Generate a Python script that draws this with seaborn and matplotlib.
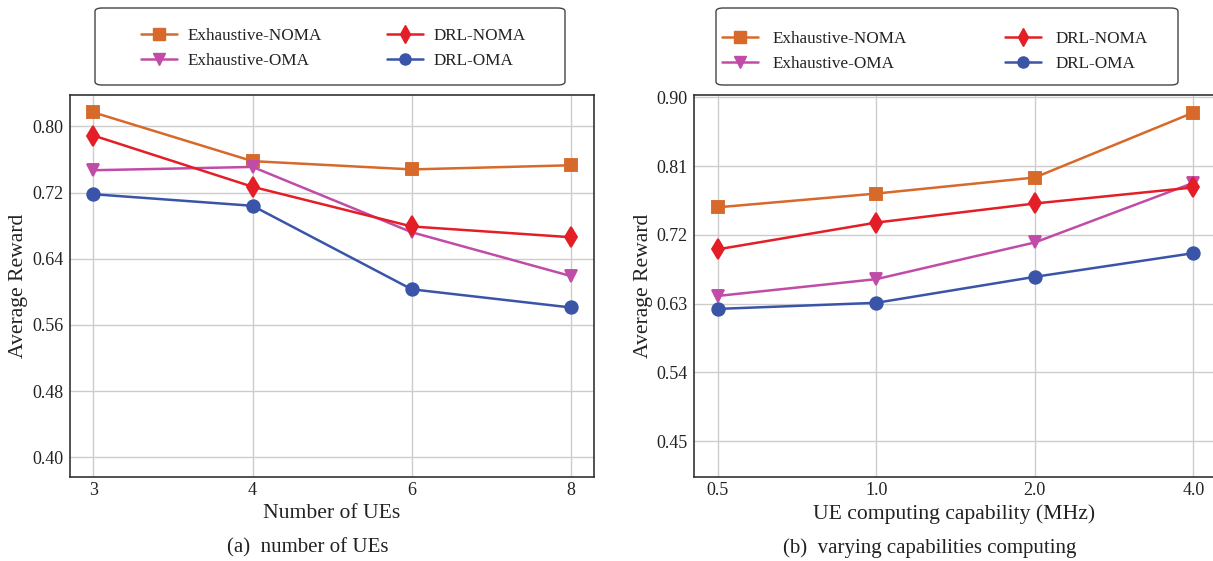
import matplotlib
matplotlib.use("Agg")
import matplotlib.pyplot as plt
import seaborn as sns
from matplotlib.lines import Line2D
from matplotlib.patches import FancyBboxPatch

# ---- data ----
ues_labels = ["3", "4", "6", "8"]
cap_labels = ["0.5", "1.0", "2.0", "4.0"]
series_names = ["Exhaustive-NOMA", "Exhaustive-OMA", "DRL-NOMA", "DRL-OMA"]

ues_exh_noma = [0.817, 0.758, 0.748, 0.753]
ues_exh_oma = [0.747, 0.751, 0.672, 0.619]
ues_drl_noma = [0.789, 0.727, 0.679, 0.666]
ues_drl_oma = [0.718, 0.704, 0.603, 0.581]

cap_exh_noma = [0.756, 0.774, 0.795, 0.880]
cap_exh_oma = [0.640, 0.662, 0.710, 0.788]
cap_drl_noma = [0.701, 0.736, 0.761, 0.782]
cap_drl_oma = [0.623, 0.631, 0.665, 0.696]

left_yticks = [0.40, 0.48, 0.56, 0.64, 0.72, 0.80]
right_yticks = [0.45, 0.54, 0.63, 0.72, 0.81, 0.90]

colors = {"Exhaustive-NOMA": "#d7692a", "Exhaustive-OMA": "#c04ca8",
          "DRL-NOMA": "#e41e26", "DRL-OMA": "#3a55a8"}
markers = {"Exhaustive-NOMA": "s", "Exhaustive-OMA": "v",
           "DRL-NOMA": "d", "DRL-OMA": "o"}
msizes = {"Exhaustive-NOMA": 9, "Exhaustive-OMA": 9, "DRL-NOMA": 10, "DRL-OMA": 9}

sns.set_theme(style="whitegrid")
plt.rcParams["font.family"] = ["Liberation Serif", "DejaVu Serif"]

fig = plt.figure(figsize=(12.13, 5.61), dpi=100)
W, H = 1213, 561
ax1 = fig.add_axes([70 / W, 1 - 477 / H, (594 - 70) / W, (477 - 95) / H])
ax2 = fig.add_axes([694 / W, 1 - 477 / H, (1214 - 694) / W, (477 - 95) / H])

left_data = dict(zip(series_names, [ues_exh_noma, ues_exh_oma, ues_drl_noma, ues_drl_oma]))
right_data = dict(zip(series_names, [cap_exh_noma, cap_exh_oma, cap_drl_noma, cap_drl_oma]))

def draw(ax, xlabels, data):
    for name in series_names:
        sns.pointplot(x=xlabels, y=data[name], ax=ax, color=colors[name],
                      marker=markers[name], markersize=msizes[name],
                      linewidth=1.8, errorbar=None, label=name, order=xlabels)

draw(ax1, ues_labels, left_data)
draw(ax2, cap_labels, right_data)

for ax, yt, ylim, xlim in [(ax1, left_yticks, (0.376, 0.838), (-0.147, 3.145)),
                           (ax2, right_yticks, (0.403, 0.903), (-0.15, 3.13))]:
    ax.set_yticks(yt)
    ax.set_yticklabels([f"{v:.2f}" for v in yt])
    ax.set_ylim(*ylim)
    ax.set_xlim(*xlim)
    ax.grid(True, color="#cccccc", linewidth=1.0)
    ax.tick_params(axis="both", labelsize=13, colors="#222222", length=0)
    ax.tick_params(axis="y", pad=4.5)
    ax.tick_params(axis="x", pad=3.5)
    for s in ax.spines.values():
        s.set_color("#333333")
        s.set_linewidth(1.2)
    ax.set_ylabel("Average Reward", fontsize=15.6, color="#222222")
    ax.yaxis.label.set_va("center")
    if ax.get_legend() is not None:
        ax.get_legend().remove()

ax1.set_xlabel("Number of UEs", fontsize=15.6, color="#222222")
ax2.set_xlabel("UE computing capability (MHz)", fontsize=15.6, color="#222222")
ax1.yaxis.set_label_coords((19 - 70) / 524, 0.5)
ax2.yaxis.set_label_coords((644 - 694) / 520, 0.5)
for ax in (ax1, ax2):
    ax.xaxis.set_label_coords(0.5, -(514 - 477) / 382)
    ax.xaxis.label.set_va("center")

handles = [Line2D([], [], color=colors[n], marker=markers[n], markersize=msizes[n] - 1,
                  linewidth=1.8) for n in series_names]

def add_legend(x_handle, y_top, box, textpad, colspace):
    leg = fig.legend(handles, series_names, ncol=2, loc="upper left",
                     bbox_to_anchor=(x_handle / W, 1 - y_top / H),
                     fontsize=12.3, frameon=False,
                     handlelength=2.1, handletextpad=textpad, columnspacing=colspace,
                     labelspacing=0.53, borderpad=0, borderaxespad=0)
    for t in leg.get_texts():
        t.set_color("#222222")
    x0, y0, x1, y1 = box
    frame = FancyBboxPatch((x0 / W, 1 - y1 / H), (x1 - x0) / W, (y1 - y0) / H,
                           boxstyle="round,pad=0,rounding_size=0.006",
                           transform=fig.transFigure, facecolor="white",
                           edgecolor="#444444", linewidth=1.0, zorder=0)
    fig.patches.append(frame)
    return leg

add_legend(141, 28, (95, 8, 565, 85), 0.64, 3.8)
add_legend(722, 31, (716, 8, 1178, 85), 0.88, 5.7)

fig.text(308 / W, 1 - 548 / H, "(a)  number of UEs", ha="center", va="center",
         fontsize=15, color="#222222")
fig.text(930 / W, 1 - 548 / H, "(b)  varying capabilities computing", ha="center",
         va="center", fontsize=15, color="#222222")

fig.savefig("out.png", dpi=100)
